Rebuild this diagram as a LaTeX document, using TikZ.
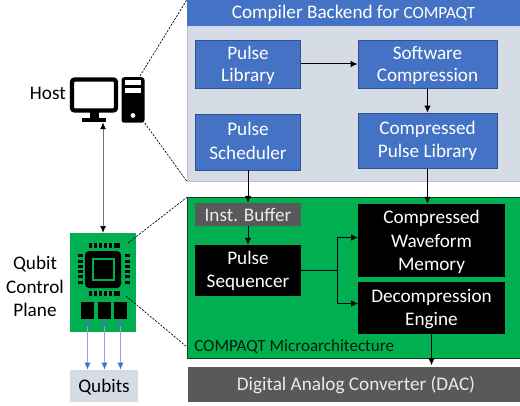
\documentclass[tikz,border=0pt]{standalone}
\usepackage{fontspec}
\setmainfont{Carlito}
\usepackage{xcolor}
\usetikzlibrary{arrows.meta}
\definecolor{hostblue}{HTML}{4472C4}
\definecolor{lightblue}{HTML}{8FAADC}
\definecolor{edgeblue}{HTML}{2F528F}
\definecolor{panelgray}{HTML}{D6DCE5}
\definecolor{boardgreen}{HTML}{00B050}
\definecolor{darkgray}{HTML}{595959}

\begin{document}
\begin{tikzpicture}[x=0.75pt,y=-0.75pt,
    size/.style 2 args={minimum width=#1*0.75pt, minimum height=#2*0.75pt},
    lift/.style={execute at begin node={\rule{0pt}{#1pt}}, execute at end node={\rule[-3pt]{0pt}{3pt}}},
    block/.style={shape=rectangle, inner sep=0pt, align=center, font=\fontsize{14.4}{16.9}\selectfont},
    wide/.style={font=\fontsize{14.4}{17.7}\selectfont},
    blue/.style={block, fill=hostblue, draw=edgeblue, line width=0.5pt, text=white},
    dark/.style={block, fill=black, text=white},
    gray/.style={block, fill=darkgray, text=white!92!black},
    solidbk/.style={shape=rectangle, inner sep=0pt, fill=black},
    flow/.style={-{Latex[length=5.2pt,width=4.8pt]}, line width=0.75pt},
    link/.style={{Latex[length=5pt,width=4.4pt,color=black]}-{Latex[length=5pt,width=4.4pt,color=black]}, line width=0.5pt, draw=black!55},
    qlink/.style={{Latex[length=5.4pt,width=4.8pt,color=hostblue]}-{Latex[length=5.4pt,width=4.8pt,color=hostblue]}, line width=0.8pt, draw=lightblue},
    zoomline/.style={line width=0.5pt, dash pattern=on 1.6pt off 1pt}]
    \useasboundingbox (0,0) rectangle (520,406);

    % backend panel
    \node[block, fill=panelgray, draw=black!25, line width=0.3pt, size={333}{181}] (panel) at (353.5,90.5) {};
    \node[blue, draw=none, size={333}{26}, lift=10.6] (header) at (353.5,13) {Compiler Backend for {\fontsize{12.8}{14}\selectfont COMPAQT}};
    \node[blue, size={105.5}{48}, lift=29.7] (plib) at (248,64) {Pulse\\Library};
    \node[blue, size={139}{48}, lift=29.7] (swcomp) at (427.5,64) {Software\\Compression};
    \node[blue, size={105.5}{56}, wide, lift=29.3] (sched) at (248,142) {Pulse\\Scheduler};
    \node[blue, size={139}{55}, lift=28.5] (clib) at (427.5,140.5) {Compressed\\Pulse Library};

    % microarchitecture panel
    \node[block, fill=boardgreen, draw=black!60!boardgreen, line width=0.4pt, size={333}{160.5}] (uarch) at (353.5,278) {};
    \node[gray, size={106}{23}] (ibuf) at (248,214.5) {Inst. Buffer};
    \node[dark, size={106}{51}, lift=28.5] (seq) at (248,270.5) {Pulse\\Sequencer};
    \node[dark, size={147}{73}, wide, lift=48.6] (cwm) at (431.5,240.5) {Compressed\\Waveform\\Memory};
    \node[dark, size={147}{52}, lift=28.5] (decomp) at (431.5,308) {Decompression\\Engine};
    \node[block, anchor=west, font=\fontsize{12.8}{15}\selectfont, text=black!85!boardgreen] (ulabel) at (194,346.5) {COMPAQT Microarchitecture};
    \node[gray, size={332}{35}, lift=11.8] (dac) at (354,384.5) {\hspace*{3pt}Digital Analog Converter (DAC)};

    \draw[flow] (plib) -- (swcomp);
    \draw[flow] (swcomp) -- (clib);
    \draw[flow] (sched) -- (ibuf);
    \draw[flow] (ibuf) -- (seq);
    \draw[flow] (clib.south) -- (clib.south |- cwm.north);
    \draw[flow] (decomp.south) -- ++(0,31);
    \coordinate (bus) at (337,270.5);
    \draw[line width=0.75pt] (seq.east) -- (bus);
    \draw[flow] (bus) |- (358,237.5) coordinate (cwmin);
    \draw[flow] (bus) |- (358,303.5) coordinate (decompin);

    % host icon
    \node[block, fill=white, draw=black, line width=3.2pt, rounded corners=2pt, size={44}{31}] (screen) at (94,95) {};
    \node[solidbk, size={9}{6}] (neck) at (94.5,115.5) {};
    \node[solidbk, size={24}{4.5}] (base) at (94,120) {};
    \node[solidbk, rounded corners=2pt, size={23}{45.5}] (tower) at (133,100) {};
    \node[block, fill=white, size={16}{5}] (slota) at (133,83) {};
    \node[block, fill=white, size={16}{5}] (slotb) at (133,91) {};
    \node[shape=circle, fill=white, inner sep=0pt, minimum size=3.6pt] (led) at (133,115.5) {};
    \node[block, anchor=east] (host) at (66,93.5) {Host};

    % control board
    \node[block, fill=boardgreen, size={66}{99}] (board) at (103,282.5) {};
    \node[solidbk, rounded corners=3pt, size={36}{37}] (chip) at (103,269.5) {};
    \node[block, draw=boardgreen, line width=1.6pt, size={21.5}{21.5}] (core) at (103.5,269.5) {};
    \foreach \x in {90,95,100,105,110,115,118} {
      \node[solidbk, size={3}{5}] (top\x) at (\x,245.5) {};
      \node[solidbk, size={3}{5}] (bot\x) at (\x,293.5) {};
    }
    \foreach \y in {255,261,266,271,276,282} {
      \node[solidbk, size={5}{3}] (lft\y) at (80.5,\y) {};
      \node[solidbk, size={5}{3}] (rgt\y) at (127.5,\y) {};
    }
    \node[solidbk, size={13}{17}] (dra) at (87.5,310.5) {};
    \node[solidbk, size={13}{17}] (drb) at (104.5,310.5) {};
    \node[solidbk, size={13}{17}] (drc) at (120.5,310.5) {};
    \node[block, wide, lift=48.2] (plane) at (35,286.8) {Qubit\\Control\\Plane};
    \node[block, fill=panelgray, size={68}{32}, lift=12] (qubits) at (104,386) {Qubits};

    \draw[link] (board.north |- base.south) -- (board.north);
    \draw[qlink] (dra.south) -- (dra.south |- qubits.north);
    \draw[qlink] (drb.south) -- (drb.south |- qubits.north);
    \draw[qlink] (drc.south) -- (drc.south |- qubits.north);

    % zoom lines
    \coordinate (boardup) at (128,243);
    \coordinate (boardlo) at (126,296);
    \coordinate (uarchlo) at (187,347);
    \draw[zoomline] (140,76) -- (panel.north west);
    \draw[zoomline] (tower.south east) -- (panel.south west);
    \draw[zoomline] (boardup) -- (uarch.north west);
    \draw[zoomline] (boardlo) -- (uarchlo);
\end{tikzpicture}
\end{document}
